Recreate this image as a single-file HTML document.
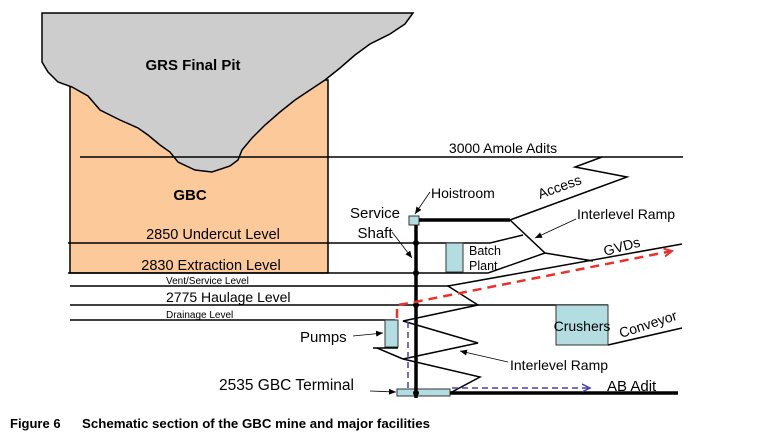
<!DOCTYPE html>
<html><head><meta charset="utf-8"><style>
html,body{margin:0;padding:0;background:#fff;}
svg{display:block;font-family:"Liberation Sans",Arial,sans-serif;}
</style></head><body>
<svg width="761" height="433" viewBox="0 0 761 433" xmlns="http://www.w3.org/2000/svg">
<defs>
<marker id="ah" markerWidth="8" markerHeight="8" refX="7" refY="4" orient="auto" markerUnits="userSpaceOnUse"><path d="M0,1 L7,4 L0,7 Z" fill="#000"/></marker>
<marker id="ar" markerWidth="10" markerHeight="10" refX="8" refY="5" orient="auto" markerUnits="userSpaceOnUse"><path d="M0,1 L8,5 L0,9" fill="none" stroke="#e8322b" stroke-width="2"/></marker>
<marker id="ab" markerWidth="10" markerHeight="10" refX="8" refY="5" orient="auto" markerUnits="userSpaceOnUse"><path d="M0,1 L8,5 L0,9" fill="none" stroke="#4a3fa8" stroke-width="1.5"/></marker>
</defs>
<rect x="70" y="80" width="258" height="193" fill="#fbc99a" stroke="#000" stroke-width="1.5"/>
<path d="M42,13 L413,13 L405,24 L390,34 L370,44 L355,55 L340,68 L325,80 L310,90 L295,100 L280,112 L265,125 L252,138 L242,150 L238,160 L230,166 L212,172 L195,170 L178,162 L170,152 L160,145 L148,135 L138,128 L120,120 L100,110 L88,96 L72,87 L58,82 L48,72 L42,62 Z" fill="#cdcdcd" stroke="#000" stroke-width="1.5"/>
<text x="193" y="70" font-size="15" font-weight="bold" text-anchor="middle">GRS Final Pit</text>
<text x="190" y="200" font-size="15" font-weight="bold" text-anchor="middle">GBC</text>
<g stroke="#000" stroke-width="1.5" fill="none">
<line x1="80" y1="157" x2="683" y2="157"/>
<line x1="68" y1="243" x2="490" y2="243"/>
<line x1="68" y1="273" x2="488" y2="273"/>
<line x1="70" y1="286" x2="450" y2="286"/>
<line x1="70" y1="305" x2="608" y2="305"/>
<line x1="70" y1="320" x2="395" y2="320"/>
<polyline points="510,220 627,177 575,167 602,157"/>
<polyline points="490,243 523,235"/>
<polyline points="510,220 545,253 593,261"/>
<polyline points="545,253 488,273"/>
<polyline points="682,244 448,286 478,305 403,321 478,343 403,359 480,377 450,393"/>
<polyline points="377,348 403,359"/>
<polyline points="608,345 682,328"/>
</g>
<text x="503" y="153" font-size="14" text-anchor="middle">3000 Amole Adits</text>
<text x="213" y="239" font-size="14.5" text-anchor="middle">2850 Undercut Level</text>
<text x="211" y="270" font-size="14.5" text-anchor="middle">2830 Extraction Level</text>
<text x="166" y="284" font-size="10">Vent/Service Level</text>
<text x="166" y="302" font-size="14">2775 Haulage Level</text>
<text x="166" y="318" font-size="10">Drainage Level</text>
<rect x="446" y="243" width="17" height="29" fill="#b3dde0" stroke="#333" stroke-width="1"/>
<rect x="556" y="305" width="52" height="40" fill="#b3dde0" stroke="#333" stroke-width="1"/>
<rect x="385" y="320" width="13" height="27" fill="#b3dde0" stroke="#333" stroke-width="1"/>
<line x1="373" y1="348" x2="398" y2="348" stroke="#000" stroke-width="1.5"/>
<rect x="409" y="216" width="10" height="9" fill="#b3dde0" stroke="#333" stroke-width="1"/>
<rect x="397" y="389" width="53" height="7" fill="#b3dde0" stroke="#333" stroke-width="1"/>
<line x1="416" y1="225" x2="416" y2="398" stroke="#000" stroke-width="3.5"/>
<line x1="419" y1="220" x2="510" y2="220" stroke="#000" stroke-width="3.5"/>
<line x1="450" y1="393" x2="678" y2="393" stroke="#000" stroke-width="3.5"/>
<g fill="#000"><circle cx="416" cy="243" r="3"/><circle cx="416" cy="273" r="3"/><circle cx="416" cy="305" r="3"/><circle cx="416" cy="393" r="3"/></g>
<polyline points="397,318 397,305 410,303 672,251" fill="none" stroke="#e8322b" stroke-width="2.5" stroke-dasharray="9,6" marker-end="url(#ar)"/>
<polyline points="408,322 408,390" fill="none" stroke="#4a3fa8" stroke-width="1.5" stroke-dasharray="6,4"/>
<polyline points="452,388 590,388" fill="none" stroke="#4a3fa8" stroke-width="1.5" stroke-dasharray="6,4" marker-end="url(#ab)"/>
<g stroke="#000" stroke-width="0.8" fill="none">
<line x1="430" y1="192" x2="415" y2="214" marker-end="url(#ah)"/>
<line x1="392" y1="232" x2="412" y2="258" marker-end="url(#ah)"/>
<line x1="576" y1="219" x2="535" y2="238" marker-end="url(#ah)"/>
<line x1="353" y1="336" x2="383" y2="333" marker-end="url(#ah)"/>
<line x1="508" y1="362" x2="460" y2="351" marker-end="url(#ah)"/>
<line x1="370" y1="391" x2="396" y2="392" marker-end="url(#ah)"/>
</g>
<text x="431" y="198" font-size="14">Hoistroom</text>
<text x="375" y="218" font-size="15" text-anchor="middle">Service</text>
<text x="375" y="238" font-size="15" text-anchor="middle">Shaft</text>
<text x="469" y="255" font-size="12.5">Batch</text>
<text x="469" y="270" font-size="12.5">Plant</text>
<text x="577" y="219" font-size="14">Interlevel Ramp</text>
<text x="0" y="0" font-size="14" transform="translate(540,199) rotate(-20)">Access</text>
<text x="0" y="0" font-size="14" transform="translate(605,256) rotate(-15)">GVDs</text>
<text x="582" y="331" font-size="14" text-anchor="middle">Crushers</text>
<text x="0" y="0" font-size="14" transform="translate(621,338) rotate(-18)">Conveyor</text>
<text x="300" y="342" font-size="15">Pumps</text>
<text x="510" y="370" font-size="14">Interlevel Ramp</text>
<text x="219" y="390" font-size="15.5">2535 GBC Terminal</text>
<text x="607" y="391" font-size="15">AB Adit</text>
<text x="10" y="428" font-size="13" font-weight="bold">Figure 6</text>
<text x="82" y="428" font-size="13" font-weight="bold" textLength="348" lengthAdjust="spacingAndGlyphs">Schematic section of the GBC mine and major facilities</text>
</svg>
</body></html>
